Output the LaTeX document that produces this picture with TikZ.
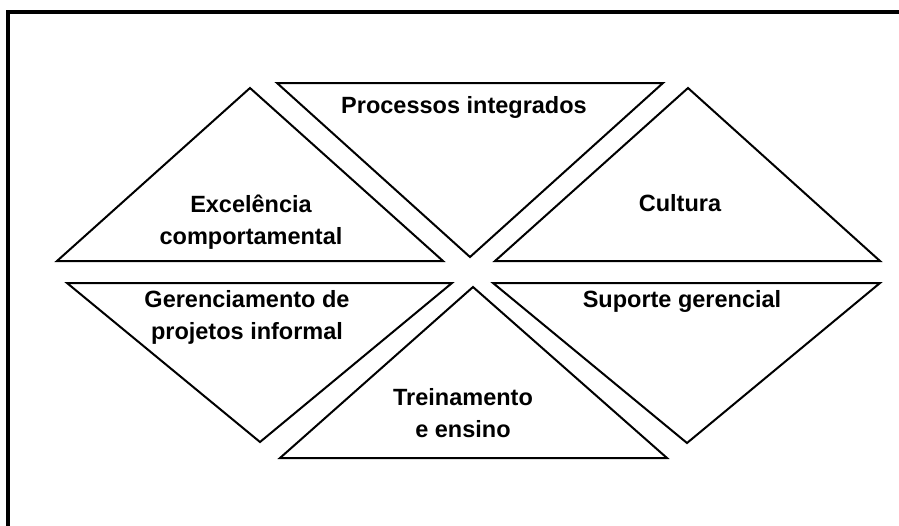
\documentclass[tikz,border=0pt]{standalone}
\usepackage{fontspec}
\setmainfont{Liberation Sans}
\begin{document}
\begin{tikzpicture}[x=1pt,y=-1pt,
  tri/.style={draw=black,line width=2pt,fill=white},
  lbl/.style={anchor=base,inner sep=0pt,font=\fontsize{23.5}{32}\selectfont\bfseries}]
\useasboundingbox (0,0) rectangle (899,525);
\draw[line width=3.2pt] (8,526) -- (8,12) -- (900,12);
% triangles
\draw[tri] (250,88) -- (57,261) -- (443,261) -- cycle;
\draw[tri] (277,83) -- (663,83) -- (470,257) -- cycle;
\draw[tri] (688,88) -- (495,261) -- (880,261) -- cycle;
\draw[tri] (67,283) -- (452,283) -- (260,442) -- cycle;
\draw[tri] (473,287) -- (280,458) -- (667,458) -- cycle;
\draw[tri] (493,283) -- (880,283) -- (687,443) -- cycle;
% labels
\node[lbl] (proc) at (464,113) {Processos integrados};
\node[lbl] (exc) at (251,212) {\begin{tabular}[t]{@{}c@{}}Excelência\\ comportamental\end{tabular}};
\node[lbl] (cult) at (680,211) {Cultura};
\node[lbl] (ger) at (247,307) {\begin{tabular}[t]{@{}c@{}}Gerenciamento de\\ projetos informal\end{tabular}};
\node[lbl] (trein) at (463,405) {\begin{tabular}[t]{@{}c@{}}Treinamento\\ e ensino\end{tabular}};
\node[lbl] (sup) at (682,307) {Suporte gerencial};
\end{tikzpicture}
\end{document}
